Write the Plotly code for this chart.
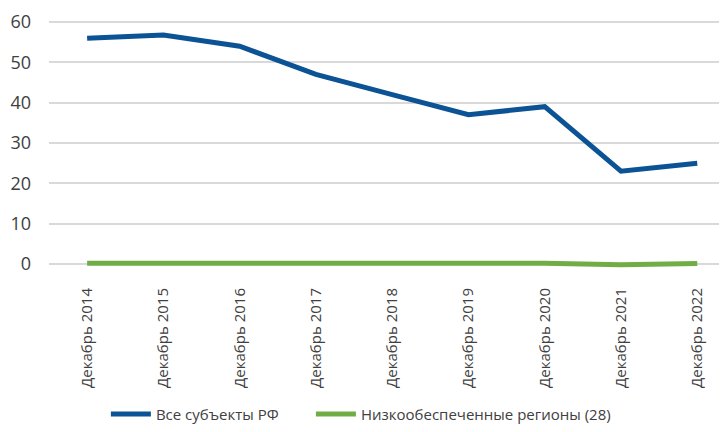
import plotly.graph_objects as go

categories = ["Декабрь 2014", "Декабрь 2015", "Декабрь 2016", "Декабрь 2017", "Декабрь 2018",
              "Декабрь 2019", "Декабрь 2020", "Декабрь 2021", "Декабрь 2022"]
all_regions = [56, 56.8, 54, 47, 42, 37, 39, 23, 25]
low_income = [0.2, 0.2, 0.2, 0.2, 0.2, 0.2, 0.2, -0.2, 0.1]
y_ticks = [0, 10, 20, 30, 40, 50, 60]

FONT = "Open Sans"
TXT = "#404040"
NB = "\u00a0"

fig = go.Figure()
fig.add_trace(go.Scatter(x=categories, y=all_regions, mode="lines", name="Все субъекты РФ" + NB * 7,
                         line=dict(color="#0b5394", width=5)))
fig.add_trace(go.Scatter(x=categories, y=low_income, mode="lines", name="Низкообеспеченные регионы (28)",
                         line=dict(color="#70ad47", width=5)))

# page body has an 8px default margin, so the figure is sized 8px smaller
fig.update_layout(
    width=719, height=424,
    margin=dict(l=41, r=0, t=10, b=162),
    paper_bgcolor="white", plot_bgcolor="white",
    font=dict(family=FONT, size=14, color=TXT),
    showlegend=True,
    legend=dict(orientation="h", x=0.46, xanchor="center", y=-0.572, yanchor="middle",
                font=dict(family=FONT, size=15, color=TXT), itemwidth=40,
                traceorder="normal"),
    xaxis=dict(type="category", range=[-0.5, 8.39], tickangle=-90, showgrid=False, automargin=False,
               showline=False, ticks="", ticklabelstandoff=14,
               tickfont=dict(family=FONT, size=15, color=TXT)),
    yaxis=dict(range=[-1.5, 61], tickvals=y_ticks, showgrid=True, gridcolor="#d9d9d9", gridwidth=2,
               zeroline=False, showline=False, ticks="", ticklabelstandoff=17, automargin=False,
               tickfont=dict(family=FONT, size=18, color=TXT)),
)

fig.write_html("out.html")
